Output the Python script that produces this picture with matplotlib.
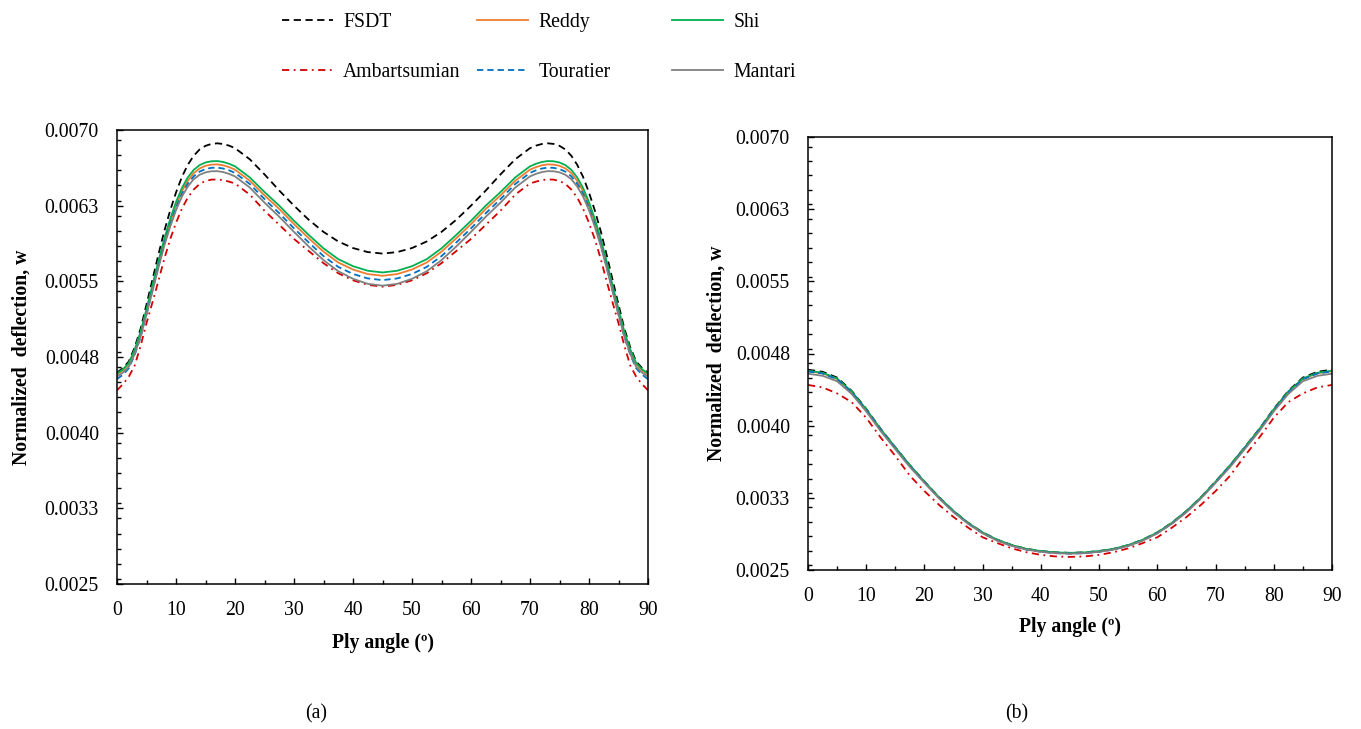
import numpy as np
import matplotlib
matplotlib.use("Agg")
import matplotlib.pyplot as plt
from matplotlib.ticker import MultipleLocator, FixedLocator

plt.rcParams['font.family'] = ['Liberation Serif', 'DejaVu Serif']

# ---------------- data ----------------
# panel (a): ply angle grid (deg), finer near the peaks
angles_a = [0, 1, 2, 3, 4, 5, 6, 7, 8, 9, 10, 11, 12, 13, 14, 15, 16, 17, 18, 19, 20,
            22.5, 25, 27.5, 30, 32.5, 35, 37.5, 40, 42.5, 45,
            47.5, 50, 52.5, 55, 57.5, 60, 62.5, 65, 67.5,
            70, 71, 72, 73, 74, 75, 76, 77, 78, 79, 80, 81, 82, 83, 84, 85, 86, 87, 88, 89, 90]
# panel (b): ply angle grid (deg)
angles_b = [0, 2.5, 5, 7.5, 10, 12.5, 15, 17.5, 20, 22.5, 25, 27.5, 30, 32.5, 35, 37.5, 40, 42.5, 45,
            47.5, 50, 52.5, 55, 57.5, 60, 62.5, 65, 67.5, 70, 72.5, 75, 77.5, 80, 82.5, 85, 87.5, 90]

series_names = ["FSDT", "Reddy", "Shi", "Ambartsumian", "Touratier", "Mantari"]

# panel (a) normalized deflection (x1e-3)
fsdt_a = [4.595, 4.64, 4.705, 4.845, 5.03, 5.27, 5.515, 5.76, 5.995, 6.2, 6.38, 6.535, 6.655, 6.745, 6.807, 6.843, 6.862, 6.868, 6.861, 6.845, 6.82,
          6.71, 6.56, 6.40, 6.25, 6.11, 5.99, 5.895, 5.83, 5.79, 5.775,
          5.79, 5.83, 5.895, 5.99, 6.11, 6.25, 6.40, 6.56, 6.71,
          6.82, 6.845, 6.861, 6.868, 6.862, 6.843, 6.807, 6.745, 6.655, 6.535, 6.38, 6.2, 5.995, 5.76, 5.515, 5.27, 5.03, 4.845, 4.705, 4.64, 4.595]
reddy_a = [4.575, 4.618, 4.68, 4.813, 4.985, 5.205, 5.435, 5.668, 5.89, 6.083, 6.252, 6.392, 6.497, 6.572, 6.619, 6.645, 6.657, 6.659, 6.65, 6.632, 6.607,
           6.497, 6.352, 6.217, 6.067, 5.927, 5.794, 5.687, 5.617, 5.572, 5.555,
           5.572, 5.617, 5.687, 5.794, 5.927, 6.067, 6.217, 6.352, 6.497,
           6.607, 6.632, 6.65, 6.659, 6.657, 6.645, 6.619, 6.572, 6.497, 6.392, 6.252, 6.083, 5.89, 5.668, 5.435, 5.205, 4.985, 4.813, 4.68, 4.618, 4.575]
shi_a = [4.585, 4.628, 4.69, 4.825, 5.0, 5.225, 5.46, 5.695, 5.92, 6.115, 6.285, 6.425, 6.53, 6.605, 6.652, 6.678, 6.69, 6.692, 6.683, 6.665, 6.64,
         6.53, 6.385, 6.25, 6.10, 5.96, 5.827, 5.72, 5.65, 5.605, 5.588,
         5.605, 5.65, 5.72, 5.827, 5.96, 6.10, 6.25, 6.385, 6.53,
         6.64, 6.665, 6.683, 6.692, 6.69, 6.678, 6.652, 6.605, 6.53, 6.425, 6.285, 6.115, 5.92, 5.695, 5.46, 5.225, 5.0, 4.825, 4.69, 4.628, 4.585]
amb_a = [4.42, 4.48, 4.555, 4.665, 4.86, 5.085, 5.29, 5.50, 5.72, 5.915, 6.08, 6.22, 6.33, 6.41, 6.465, 6.495, 6.508, 6.51, 6.503, 6.488, 6.47,
         6.36, 6.20, 6.06, 5.92, 5.80, 5.68, 5.58, 5.51, 5.465, 5.447,
         5.465, 5.51, 5.58, 5.68, 5.80, 5.92, 6.06, 6.20, 6.36,
         6.47, 6.488, 6.503, 6.51, 6.508, 6.495, 6.465, 6.41, 6.33, 6.22, 6.08, 5.915, 5.72, 5.50, 5.29, 5.085, 4.86, 4.665, 4.555, 4.48, 4.42]
tour_a = [4.53, 4.575, 4.638, 4.772, 4.948, 5.172, 5.407, 5.642, 5.866, 6.06, 6.228, 6.366, 6.468, 6.541, 6.587, 6.613, 6.625, 6.627, 6.618, 6.6, 6.575,
          6.465, 6.315, 6.175, 6.025, 5.885, 5.75, 5.643, 5.573, 5.529, 5.512,
          5.529, 5.573, 5.643, 5.75, 5.885, 6.025, 6.175, 6.315, 6.465,
          6.575, 6.6, 6.618, 6.627, 6.625, 6.613, 6.587, 6.541, 6.468, 6.366, 6.228, 6.06, 5.866, 5.642, 5.407, 5.172, 4.948, 4.772, 4.638, 4.575, 4.53]
mant_a = [4.555, 4.595, 4.652, 4.78, 4.95, 5.17, 5.4, 5.63, 5.85, 6.04, 6.205, 6.34, 6.44, 6.512, 6.556, 6.58, 6.591, 6.592, 6.583, 6.565, 6.54,
          6.43, 6.28, 6.14, 5.99, 5.845, 5.71, 5.60, 5.525, 5.475, 5.457,
          5.475, 5.525, 5.60, 5.71, 5.845, 5.99, 6.14, 6.28, 6.43,
          6.54, 6.565, 6.583, 6.592, 6.591, 6.58, 6.556, 6.512, 6.44, 6.34, 6.205, 6.04, 5.85, 5.63, 5.4, 5.17, 4.95, 4.78, 4.652, 4.595, 4.555]

# panel (b) normalized deflection (x1e-3)
fsdt_b = [4.582, 4.56, 4.50, 4.362, 4.175, 3.965, 3.775, 3.589, 3.42, 3.257, 3.113, 2.991, 2.891, 2.815, 2.759, 2.72, 2.697, 2.683, 2.678,
          2.683, 2.697, 2.72, 2.759, 2.815, 2.891, 2.991, 3.113, 3.257, 3.42, 3.589, 3.775, 3.965, 4.175, 4.362, 4.50, 4.56, 4.582]
reddy_b = [4.566, 4.545, 4.486, 4.351, 4.166, 3.958, 3.769, 3.585, 3.414, 3.252, 3.109, 2.986, 2.886, 2.811, 2.755, 2.716, 2.693, 2.679, 2.674,
           2.679, 2.693, 2.716, 2.755, 2.811, 2.886, 2.986, 3.109, 3.252, 3.414, 3.585, 3.769, 3.958, 4.166, 4.351, 4.486, 4.545, 4.566]
shi_b = [4.571, 4.55, 4.49, 4.355, 4.17, 3.962, 3.773, 3.589, 3.418, 3.256, 3.113, 2.99, 2.89, 2.815, 2.759, 2.72, 2.697, 2.683, 2.678,
         2.683, 2.697, 2.72, 2.759, 2.815, 2.89, 2.99, 3.113, 3.256, 3.418, 3.589, 3.773, 3.962, 4.17, 4.355, 4.49, 4.55, 4.571]
amb_b = [4.423, 4.398, 4.335, 4.245, 4.082, 3.875, 3.685, 3.48, 3.32, 3.177, 3.05, 2.94, 2.84, 2.78, 2.725, 2.685, 2.657, 2.641, 2.636,
         2.641, 2.657, 2.685, 2.725, 2.78, 2.84, 2.94, 3.05, 3.177, 3.32, 3.48, 3.685, 3.875, 4.082, 4.245, 4.335, 4.398, 4.423]
tour_b = [4.563, 4.542, 4.482, 4.347, 4.162, 3.954, 3.765, 3.581, 3.41, 3.248, 3.105, 2.982, 2.882, 2.807, 2.751, 2.712, 2.689, 2.675, 2.670,
          2.675, 2.689, 2.712, 2.751, 2.807, 2.882, 2.982, 3.105, 3.248, 3.41, 3.581, 3.765, 3.954, 4.162, 4.347, 4.482, 4.542, 4.563]
mant_b = [4.54, 4.518, 4.462, 4.33, 4.148, 3.942, 3.755, 3.57, 3.405, 3.244, 3.10, 2.98, 2.881, 2.805, 2.75, 2.712, 2.689, 2.675, 2.67,
          2.675, 2.689, 2.712, 2.75, 2.805, 2.881, 2.98, 3.10, 3.244, 3.405, 3.57, 3.755, 3.942, 4.148, 4.33, 4.462, 4.518, 4.54]

ytick_vals = [0.0025, 0.00325, 0.0040, 0.00475, 0.0055, 0.00625, 0.0070]
ytick_labels = ["0.0025", "0.0033", "0.0040", "0.0048", "0.0055", "0.0063", "0.0070"]
xtick_vals = [0, 10, 20, 30, 40, 50, 60, 70, 80, 90]

# ---------------- styles ----------------
styles = {
    "FSDT": dict(color="black", dashes=(4, 2.5)),
    "Reddy": dict(color="#ED7D31", linestyle="-"),
    "Shi": dict(color="#00B050", linestyle="-"),
    "Ambartsumian": dict(color="#D40000", dashes=(4, 2.5, 1, 2.5)),
    "Touratier": dict(color="#0070C0", dashes=(3.5, 2.2)),
    "Mantari": dict(color="#808080", linestyle="-"),
}
LW = 1.3
FS = 14.2

W, H = 1361, 729
fig = plt.figure(figsize=(W / 100, H / 100), dpi=100)

ax1 = fig.add_axes([117 / W, 1 - 584 / H, (648 - 117) / W, (584 - 130) / H])
ax2 = fig.add_axes([808 / W, 1 - 570 / H, (1332 - 808) / W, (570 - 137) / H])

data_a = [fsdt_a, reddy_a, shi_a, amb_a, tour_a, mant_a]
data_b = [fsdt_b, reddy_b, shi_b, amb_b, tour_b, mant_b]

handles = {}
for ax, xs, dset, ylx, xly in [(ax1, angles_a, data_a, -0.179, -0.13),
                               (ax2, angles_b, data_b, -0.174, -0.132)]:
    for name, vals in zip(series_names, dset):
        ln, = ax.plot(xs, np.array(vals) * 1e-3, lw=LW, label=name, **styles[name])
        handles[name] = ln
    ax.set_xlim(0, 90)
    ax.set_ylim(0.0025, 0.0070)
    ax.xaxis.set_major_locator(FixedLocator(xtick_vals))
    ax.xaxis.set_minor_locator(MultipleLocator(5))
    ax.yaxis.set_major_locator(FixedLocator(ytick_vals))
    ax.set_yticklabels(ytick_labels)
    ax.yaxis.set_minor_locator(MultipleLocator(0.00015))
    ax.tick_params(which="both", direction="in", width=1.0, labelsize=FS)
    ax.tick_params(which="major", length=4.0)
    ax.tick_params(which="minor", length=2.8)
    ax.tick_params(axis="x", pad=12)
    ax.tick_params(axis="y", pad=13)
    for sp in ax.spines.values():
        sp.set_linewidth(1.1)
    ax.set_xlabel("Ply angle (º)", fontsize=FS, fontweight="bold", va="center")
    ax.set_ylabel("Normalized  deflection, w", fontsize=FS, fontweight="bold", va="center")
    ax.xaxis.set_label_coords(0.5, xly)
    ax.yaxis.set_label_coords(ylx, 0.5)

fig.text(316 / W, 1 - 714 / H, "(a)", ha="center", va="center", fontsize=FS)
fig.text(1017 / W, 1 - 714 / H, "(b)", ha="center", va="center", fontsize=FS)

# legend: three columns, two rows (row-wise order as in the original)
cols = [["FSDT", "Ambartsumian"], ["Reddy", "Touratier"], ["Shi", "Mantari"]]
col_x = [282, 477, 672]
for names, cx in zip(cols, col_x):
    fig.legend([handles[n] for n in names], names, loc="upper left",
               bbox_to_anchor=(cx / W, 1 - 13 / H), frameon=False,
               fontsize=FS, handlelength=2.6, handletextpad=0.5,
               labelspacing=1.55, borderpad=0, borderaxespad=0)

fig.savefig("out.png", dpi=100)
